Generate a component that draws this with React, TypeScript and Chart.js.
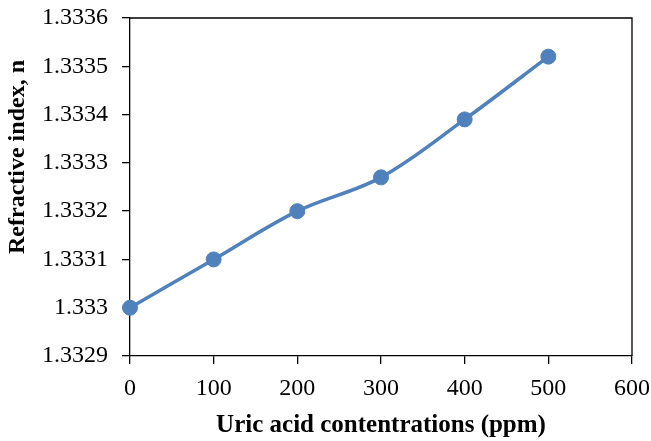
import React, { useEffect, useRef } from "react";
import { Chart, registerables } from "chart.js";

Chart.register(...registerables);

const concentrations = [0, 100, 200, 300, 400, 500];
const refractiveIndex = [1.333, 1.3331, 1.3332, 1.33327, 1.33339, 1.33352];
const xTitle = "Uric acid contentrations (ppm)";
const yTitle = "Refractive index, n";

const FONT = "'Liberation Serif', 'Times New Roman', serif";

const frame = {
  id: "frame",
  afterDatasetsDraw(chart: any) {
    const { ctx, chartArea: a } = chart;
    ctx.save();
    ctx.strokeStyle = "#000";
    ctx.lineWidth = 1.3;
    ctx.beginPath();
    ctx.moveTo(a.left, a.top);
    ctx.lineTo(a.right, a.top);
    ctx.lineTo(a.right, a.bottom);
    ctx.stroke();
    ctx.restore();
  },
  afterDraw(chart: any) {
    const { ctx } = chart;
    ctx.save();
    ctx.translate(18, 157);
    ctx.rotate(-Math.PI / 2);
    ctx.font = `bold 24px ${FONT}`;
    ctx.fillStyle = "#000";
    ctx.textAlign = "center";
    ctx.textBaseline = "middle";
    ctx.fillText(yTitle, 0, 0);
    ctx.restore();
  },
};

export default function App() {
  const ref = useRef<HTMLCanvasElement>(null);
  useEffect(() => {
    const font = FONT;
    const chart = new Chart(ref.current!, {
      type: "line",
      data: {
        datasets: [
          {
            data: concentrations.map((x, i) => ({ x, y: refractiveIndex[i] })),
            borderColor: "#4F81BD",
            backgroundColor: "#4F81BD",
            borderWidth: 3.5,
            pointRadius: 7.5,
            pointBorderWidth: 1,
            pointHoverRadius: 7.5,
            tension: 0.35,
            clip: false as any,
          },
        ],
      },
      options: {
        animation: false,
        responsive: false,
        maintainAspectRatio: false,
        layout: { padding: { top: 18, right: 19, left: 0, bottom: 0 } },
        plugins: { legend: { display: false }, tooltip: { enabled: false } },
        scales: {
          x: {
            type: "linear",
            min: 0,
            max: 600,
            ticks: { stepSize: 100, color: "#000", font: { family: font, size: 24 }, padding: 10, maxRotation: 0 },
            grid: { drawOnChartArea: false, drawTicks: true, tickLength: 8, color: "#000", lineWidth: 1.3 },
            border: { color: "#000", width: 1.3 },
            title: { display: true, text: xTitle, color: "#000", font: { family: font, size: 25, weight: "bold" }, padding: { top: 4, bottom: 0 } },
            afterFit(s: any) {
              s.height = 85;
              s.paddingLeft = 0;
              s.paddingRight = 0;
            },
          },
          y: {
            type: "linear",
            min: 1.3329,
            max: 1.3336,
            ticks: {
              stepSize: 0.0001,
              color: "#000",
              font: { family: font, size: 24 },
              padding: 14,
              callback: (v: any) => String(Math.round(Number(v) * 10000) / 10000),
            },
            grid: { drawOnChartArea: false, drawTicks: true, tickLength: 8, color: "#000", lineWidth: 1.3 },
            border: { color: "#000", width: 1.3 },
            title: { display: false },
            afterFit(s: any) {
              s.width = 130;
              s.paddingTop = 0;
              s.paddingBottom = 0;
            },
          },
        },
      },
      plugins: [frame],
    });
    return () => chart.destroy();
  }, []);
  return (
    <div style={{ position: "fixed", left: 0, top: 0, width: 651, height: 441, background: "#fff" }}>
      <canvas ref={ref} width={651} height={441} style={{ width: 651, height: 441 }} />
    </div>
  );
}
